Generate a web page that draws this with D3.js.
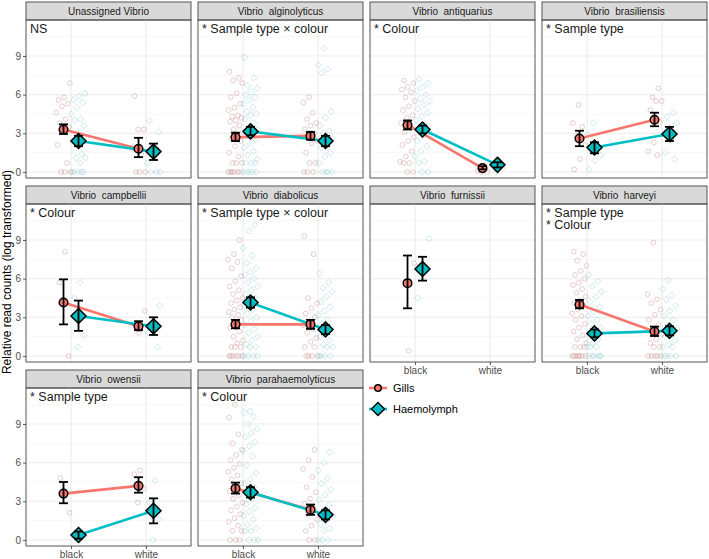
<!DOCTYPE html>
<html lang="en">
	<head>
		<meta charset="utf-8">
		<title>Vibrio read counts</title>
		<script type="text/javascript" src="https://d3js.org/d3.v7.min.js"></script>
		<style>
			body { margin: 0; background: #fff; }
			text { font-family: "Liberation Sans", Arial, sans-serif; }
			.axis path { display: none; }
			.axis line { stroke: #333; stroke-width: 0.8px; }
			.axis text { fill: #4d4d4d; font-size: 10px; font-family: "Liberation Sans", Arial, sans-serif; }
		</style>
	</head>
	<body>
		<script type="text/javascript">

			var w = 709;
			var h = 559;

			// facets, in facet_wrap order
			var panelNames = ["Unassigned Vibrio", "Vibrio  alginolyticus", "Vibrio  antiquarius", "Vibrio  brasiliensis",
				"Vibrio  campbellii", "Vibrio  diabolicus", "Vibrio  furnissii", "Vibrio  harveyi",
				"Vibrio  owensii", "Vibrio  parahaemolyticus"];

			var annotations = [["NS"], ["* Sample type \u00d7 colour"], ["* Colour"], ["* Sample type"],
				["* Colour"], ["* Sample type \u00d7 colour"], [], ["* Sample type", "* Colour"],
				["* Sample type"], ["* Colour"]];

			var colourLevels = ["black", "white"];
			var sampleTypes = ["Gills", "Haemolymph"];
			var yTicks = [0, 3, 6, 9];
			var yMinor = [1.5, 4.5, 7.5, 10.5];

			// means and error bars, [black, white] for each panel
			var gillsMean = [[3.3,1.8],[2.7,2.8],[3.65,0.3],[2.6,4.05],[4.15,2.3],[2.45,2.45],[5.65,null],[4.0,1.9],[3.6,4.2],[4.0,2.35]];
			var gillsLow  = [[2.95,1.15],[2.4,2.5],[3.3,0.2],[2.0,3.55],[2.45,2.0],[2.15,2.1],[3.7,null],[3.7,1.55],[2.85,3.67],[3.6,1.95]];
			var gillsHigh = [[3.7,2.65],[3.05,3.1],[4.0,0.45],[3.2,4.6],[5.95,2.7],[2.8,2.8],[7.8,null],[4.35,2.28],[4.5,4.87],[4.45,2.75]];
			var haemoMean = [[2.4,1.58],[3.15,2.4],[3.3,0.55],[1.9,2.95],[3.1,2.3],[4.15,2.05],[6.75,null],[1.75,1.95],[0.38,2.27],[3.7,1.95]];
			var haemoLow  = [[2.0,0.93],[2.85,2.0],[3.0,0.35],[1.45,2.4],[1.95,1.63],[3.75,1.7],[5.85,null],[1.45,1.6],[0.1,1.29],[3.3,1.6]];
			var haemoHigh = [[2.8,2.2],[3.5,2.8],[3.6,0.75],[2.3,3.5],[4.3,3.0],[4.55,2.4],[7.7,null],[2.05,2.3],[0.65,3.23],[4.1,2.3]];

			// raw observations
			var gillsBlack = [
				[6.9,5.8,5.6,5.3,5.1,4.6,4.1,3.8,3.5,3.3,2.1,0.7,0,0,0],
				[7.8,7.3,7.1,6.9,6.1,5.8,5.3,5.0,4.8,4.4,4.3,4.2,4.0,3.9,3.6,3.3,3.1,2.9,2.6,2.4,2.0,1.5,1.2,0.7,0.7,0.7,0,0,0,0,0,0],
				[7.1,6.9,6.6,6.4,6.2,5.8,5.5,5.1,4.8,4.4,4.2,3.8,3.4,3.1,2.7,2.4,2.1,1.6,1.2,0.8,0.7,0.7,0,0],
				[5.2,3.8,3.5,2.8,2.1,1.0,0.2],
				[8.1,5.7,0],
				[9.0,7.9,7.5,7.3,6.8,6.2,5.8,5.4,5.1,4.8,4.5,4.3,4.1,3.8,3.6,3.4,3.2,3.0,2.8,2.5,2.2,1.9,1.5,1.2,1.0,0.7,0.7,0.7,0,0,0,0,0,0],
				[7.2,0.4],
				[8.1,7.9,7.4,7.0,6.6,6.3,6.0,5.7,5.5,5.2,4.9,4.6,4.3,4.1,3.9,3.6,3.3,3.1,2.8,2.5,2.2,1.9,1.6,1.3,1.0,0.7,0.7,0.7,0,0,0,0,0,0,0],
				[4.8,2.1],
				[10.5,9.5,8.2,7.5,7.0,6.6,6.2,5.9,5.6,5.3,5.0,4.7,4.4,4.1,3.8,3.5,3.2,2.9,2.6,2.3,2.0,1.7,1.4,1.1,0.7,0.7,0,0,0]
			];
			var gillsWhite = [
				[5.9,3.3,3.3,1.8,1.3,0,0,0],
				[5.8,5.4,4.6,4.1,3.8,3.6,3.3,3.0,2.7,2.4,2.2,1.5,0.7,0.7,0,0,0],
				[0.3,0.1,0,0],
				[6.5,5.8,5.5,5.5,4.8,3.9,2.3,1.6,1.3],
				[3.5,1.8],
				[9.3,7.9,4.5,4.1,3.7,3.3,3.0,2.7,2.4,2.1,1.8,1.4,1.1,0.7,0.7,0,0,0,0],
				[],
				[8.8,4.8,4.4,4.1,3.6,3.2,2.8,2.4,2.1,1.7,1.3,1.0,0.7,0.7,0,0,0,0,0],
				[5.4,5.1,4.0,2.9],
				[7.0,6.2,5.5,4.9,4.1,3.7,3.2,2.8,2.4,2.0,1.6,1.1,0.7,0,0]
			];
			var haemoBlack = [
				[6.1,5.9,5.6,5.4,5.0,4.5,4.1,4.0,3.6,3.0,2.4,1.4,1.1,1.1,0.7,0,0,0,0,0],
				[8.9,7.3,6.7,6.5,6.2,6.0,5.8,5.6,5.3,5.0,4.7,4.5,4.4,4.1,3.8,3.5,3.3,3.0,2.8,2.5,2.2,1.9,1.6,1.3,1.0,0.7,0.7,0.7,0,0,0,0,0],
				[7.2,6.9,6.6,6.3,6.0,5.7,5.5,5.2,4.9,4.6,4.3,4.0,3.7,3.4,3.1,2.8,2.4,2.0,1.6,1.2,0.8,0.7,0,0],
				[3.8,2.9,2.1,1.6,1.3,0.9,0.2],
				[5.7,4.5,1.6,0.7],
				[10.2,9.7,8.4,7.8,7.2,6.8,6.5,6.3,6.0,5.7,5.4,5.1,4.8,4.5,4.2,3.9,3.6,3.3,3.0,2.7,2.4,2.1,1.8,1.5,1.2,0.9,0.7,0.7,0,0,0,0],
				[9.1,7.1,4.5],
				[6.3,5.8,5.4,5.0,4.6,4.2,3.8,3.4,3.1,2.8,2.5,2.2,1.9,1.6,1.3,1.0,0.7,0.7,0.7,0,0,0,0,0,0],
				[0.6,0.3,0],
				[10.0,9.9,9.6,9.0,8.6,8.3,8.0,7.6,7.3,6.9,6.5,5.8,5.2,4.7,4.4,4.1,3.8,3.5,3.2,2.8,2.5,2.2,1.9,1.6,1.2,0.9,0.7,0.7,0,0,0]
			];
			var haemoWhite = [
				[4.0,3.1,1.8,0.7,0,0,0],
				[9.6,8.3,8.0,7.7,4.7,4.2,3.6,3.2,3.0,2.6,2.2,1.9,1.5,1.2,0.7,0,0,0,0],
				[0.9,0.6,0.3,0],
				[4.6,4.3,3.8,2.5,1.5,1.0],
				[3.9,2.6,1.8,0.7],
				[6.4,5.7,5.3,5.0,4.6,4.2,3.8,3.5,3.2,2.8,2.5,2.2,1.9,1.5,1.2,0.9,0.7,0.7,0,0,0,0],
				[],
				[5.9,5.2,4.7,4.4,3.9,3.5,3.1,2.8,2.4,2.1,1.8,1.5,1.2,0.9,0.7,0.7,0,0,0,0],
				[4.6,2.9,1.6,0],
				[6.8,6.0,5.4,4.8,4.4,3.9,3.5,3.1,2.7,2.3,1.9,1.5,1.2,0.9,0.7,0,0,0]
			];

			var typeColours = d3.scaleOrdinal().domain(sampleTypes).range(["#F8766D", "#00BFC4"]);
			var rawColours = d3.scaleOrdinal().domain(sampleTypes).range(["#b86565", "#3aaeb0"]);

			// layout
			var panelW = 165;
			var panelH = 158;
			var stripH = 18;
			var colLeft = d3.scaleLinear().domain([0, 1]).range([26, 198]);
			var rowTop = d3.scaleLinear().domain([0, 1]).range([2, 186]);
			var dodge = 0.1;

			var svg = d3.select("body")
				.append("svg")
				.attr("width", w)
				.attr("height", h);

			function diamond(x, y, s) {
				return "M" + x + "," + (y - s) + "L" + (x + s) + "," + y + "L" + x + "," + (y + s) + "L" + (x - s) + "," + y + "Z";
			}

			panelNames.forEach(function(name, p) {
				var c = p % 4, r = Math.floor(p / 4);
				var left = colLeft(c);
				var top = rowTop(r);
				var plotTop = top + stripH;

				var x = d3.scaleLinear().domain([0.4, 2.6]).range([left, left + panelW]);
				var y = d3.scaleLinear().domain([-0.47, 11.8]).range([plotTop + panelH, plotTop]);

				var g = svg.append("g");

				// strip
				g.append("rect")
					.attr("x", left).attr("y", top)
					.attr("width", panelW).attr("height", stripH)
					.attr("fill", "#d9d9d9")
					.attr("stroke", "#555").attr("stroke-width", 1);
				g.append("text")
					.attr("x", left + panelW / 2).attr("y", top + 13)
					.attr("text-anchor", "middle")
					.attr("font-size", "10px")
					.attr("fill", "#1a1a1a")
					.style("white-space", "pre")
					.text(name);

				// grid
				g.selectAll(".minor").data(yMinor).enter().append("line")
					.attr("x1", left).attr("x2", left + panelW)
					.attr("y1", function(d){ return y(d); }).attr("y2", function(d){ return y(d); })
					.attr("stroke", "#f2f2f2").attr("stroke-width", 0.6);
				g.selectAll(".major").data(yTicks).enter().append("line")
					.attr("x1", left).attr("x2", left + panelW)
					.attr("y1", function(d){ return y(d); }).attr("y2", function(d){ return y(d); })
					.attr("stroke", "#ebebeb").attr("stroke-width", 1.1);
				g.selectAll(".vmajor").data([1, 2]).enter().append("line")
					.attr("x1", function(d){ return x(d); }).attr("x2", function(d){ return x(d); })
					.attr("y1", plotTop).attr("y2", plotTop + panelH)
					.attr("stroke", "#ebebeb").attr("stroke-width", 1.1);

				// raw points, jittered around the dodged position
				var raw = [];
				[[gillsBlack, 0, 1], [gillsWhite, 0, 2], [haemoBlack, 1, 1], [haemoWhite, 1, 2]].forEach(function(s) {
					s[0][p].forEach(function(v, i) {
						var jit = (((i + 1) * 0.6180339887 + s[2] * 0.31 + p * 0.17) % 1 - 0.5) * 0.2;
						raw.push({type: sampleTypes[s[1]], t: s[1], pos: s[2] + (s[1] ? dodge : -dodge) + jit, value: v});
					});
				});
				g.selectAll(".rawc").data(raw.filter(function(d){ return d.t == 0; })).enter().append("circle")
					.attr("cx", function(d){ return x(d.pos); })
					.attr("cy", function(d){ return y(d.value); })
					.attr("r", 2.4)
					.attr("fill", "none")
					.attr("stroke", rawColours("Gills"))
					.attr("stroke-opacity", 0.35)
					.attr("stroke-width", 0.9);
				g.selectAll(".rawd").data(raw.filter(function(d){ return d.t == 1; })).enter().append("path")
					.attr("d", function(d){ return diamond(x(d.pos), y(d.value), 3.1); })
					.attr("fill", "none")
					.attr("stroke", rawColours("Haemolymph"))
					.attr("stroke-opacity", 0.3)
					.attr("stroke-width", 0.9);

				// summaries
				var summ = [
					{type: "Gills", t: 0, mean: gillsMean[p], lo: gillsLow[p], hi: gillsHigh[p]},
					{type: "Haemolymph", t: 1, mean: haemoMean[p], lo: haemoLow[p], hi: haemoHigh[p]}
				];
				var pts = [];
				summ.forEach(function(s) {
					s.mean.forEach(function(m, k) {
						if (m === null) return;
						pts.push({type: s.type, t: s.t, pos: k + 1 + (s.t ? dodge : -dodge), mean: m, lo: s.lo[k], hi: s.hi[k]});
					});
				});

				var line = d3.line()
					.x(function(d){ return x(d.pos); })
					.y(function(d){ return y(d.mean); });
				summ.forEach(function(s) {
					var sp = pts.filter(function(d){ return d.t == s.t; });
					if (sp.length < 2) return;
					g.append("path")
						.datum(sp)
						.attr("d", line)
						.attr("fill", "none")
						.attr("stroke", typeColours(s.type))
						.attr("stroke-width", 2.6);
				});

				g.selectAll(".mc").data(pts.filter(function(d){ return d.t == 0; })).enter().append("circle")
					.attr("cx", function(d){ return x(d.pos); })
					.attr("cy", function(d){ return y(d.mean); })
					.attr("r", 4.3)
					.attr("fill", typeColours("Gills"))
					.attr("stroke", "#000").attr("stroke-width", 1.5);
				g.selectAll(".md").data(pts.filter(function(d){ return d.t == 1; })).enter().append("path")
					.attr("d", function(d){ return diamond(x(d.pos), y(d.mean), 7.5); })
					.attr("fill", typeColours("Haemolymph"))
					.attr("stroke", "#000").attr("stroke-width", 1.5);

				// error bars
				var eb = g.selectAll(".eb").data(pts).enter().append("g");
				eb.append("line")
					.attr("x1", function(d){ return x(d.pos); }).attr("x2", function(d){ return x(d.pos); })
					.attr("y1", function(d){ return y(d.lo); }).attr("y2", function(d){ return y(d.hi); });
				eb.append("line")
					.attr("x1", function(d){ return x(d.pos) - 4.5; }).attr("x2", function(d){ return x(d.pos) + 4.5; })
					.attr("y1", function(d){ return y(d.lo); }).attr("y2", function(d){ return y(d.lo); });
				eb.append("line")
					.attr("x1", function(d){ return x(d.pos) - 4.5; }).attr("x2", function(d){ return x(d.pos) + 4.5; })
					.attr("y1", function(d){ return y(d.hi); }).attr("y2", function(d){ return y(d.hi); });
				eb.selectAll("line").attr("stroke", "#000").attr("stroke-width", 1.8);

				// significance notes
				g.selectAll(".note").data(annotations[p]).enter().append("text")
					.attr("x", left + 4)
					.attr("y", function(d, i){ return plotTop + 12.5 + i * 12.5; })
					.attr("font-size", "12.5px")
					.attr("fill", "#1a1a1a")
					.text(function(d){ return d; });

				// border
				g.append("rect")
					.attr("x", left).attr("y", plotTop)
					.attr("width", panelW).attr("height", panelH)
					.attr("fill", "none")
					.attr("stroke", "#555").attr("stroke-width", 1);

				// axes
				if (c == 0) {
					g.append("g")
						.attr("class", "axis")
						.attr("transform", "translate(" + left + ",0)")
						.call(d3.axisLeft(y).tickValues(yTicks).tickSize(3).tickPadding(2));
				}
				var below = p + 4;
				if (below >= panelNames.length) {
					var xb = d3.scaleOrdinal().domain(colourLevels).range([x(1), x(2)]);
					g.append("g")
						.attr("class", "axis")
						.attr("transform", "translate(0," + (plotTop + panelH) + ")")
						.call(d3.axisBottom(xb).tickSize(3).tickPadding(2));
				}
			});

			// y title
			svg.append("text")
				.attr("transform", "translate(11,272) rotate(-90)")
				.attr("text-anchor", "middle")
				.attr("font-size", "12px")
				.attr("fill", "#000")
				.text("Relative read counts (log transformed)");

			// legend
			var legend = svg.append("g").attr("transform", "translate(369,388)");
			sampleTypes.forEach(function(s, i) {
				var ly = i * 21;
				legend.append("line")
					.attr("x1", 0).attr("x2", 18)
					.attr("y1", ly).attr("y2", ly)
					.attr("stroke", typeColours(s)).attr("stroke-width", 2.6);
				if (i == 0) {
					legend.append("circle")
						.attr("cx", 9).attr("cy", ly).attr("r", 3.3)
						.attr("fill", typeColours(s))
						.attr("stroke", "#000").attr("stroke-width", 1.4);
				} else {
					legend.append("path")
						.attr("d", diamond(9, ly, 6.5))
						.attr("fill", typeColours(s))
						.attr("stroke", "#000").attr("stroke-width", 1.4);
				}
				legend.append("text")
					.attr("x", 24).attr("y", ly + 4)
					.attr("font-size", "11px")
					.attr("fill", "#000")
					.text(s);
			});

		</script>
	</body>
</html>
